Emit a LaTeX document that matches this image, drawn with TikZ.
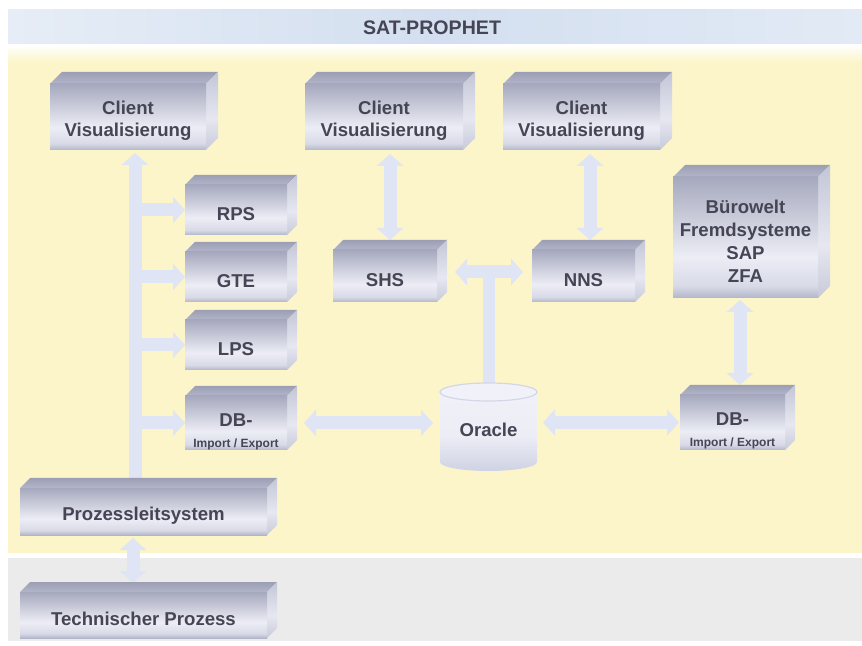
\documentclass[tikz,border=0pt]{standalone}
\usepackage{fontspec}
\setmainfont{Liberation Sans}
\usetikzlibrary{arrows.meta}

\definecolor{yellowbg}{HTML}{FCF5CA}
\definecolor{graybg}{HTML}{EBEBEB}
\definecolor{titleL}{HTML}{E6EDF6}
\definecolor{titleM}{HTML}{D3DFF0}
\definecolor{titleR}{HTML}{E2EAF5}
\definecolor{arrc}{HTML}{DFE5F5}
\definecolor{txt}{HTML}{454555}
\definecolor{fb}{HTML}{B3B6C9}
\definecolor{fb2}{HTML}{D8DAE7}
\definecolor{fm}{HTML}{ECEDF5}
\definecolor{ft}{HTML}{A6A9BE}
\definecolor{tf1}{HTML}{9C9FB4}
\definecolor{tf2}{HTML}{B3B6C9}
\definecolor{sd1}{HTML}{C3C6D7}
\definecolor{sd2}{HTML}{E6E7F0}
\definecolor{sd3}{HTML}{C8CADA}
\definecolor{cyltop}{HTML}{F1F2F9}
\definecolor{cylbot}{HTML}{CFD2E4}
\definecolor{cyledge}{HTML}{D3D6E6}

\pgfdeclareverticalshading{frontsh}{100bp}{color(0bp)=(fb); color(25bp)=(fb); color(30bp)=(fb2); color(42bp)=(fm); color(75bp)=(ft); color(100bp)=(ft)}
\pgfdeclareverticalshading{sidesh}{100bp}{color(0bp)=(sd3); color(25bp)=(sd3); color(45bp)=(sd2); color(75bp)=(sd1); color(100bp)=(sd1)}
\pgfdeclareverticalshading{cylsh}{100bp}{color(0bp)=(cylbot); color(25bp)=(cylbot); color(45bp)=(fm); color(75bp)=(cyltop); color(100bp)=(cyltop)}

\pgfdeclarelayer{bg}
\pgfdeclarelayer{conn}
\pgfdeclarelayer{cyl}
\pgfsetlayers{bg,conn,cyl,main}

% #1 extra options, #2 name, #3 x1, #4 y1, #5 x2, #6 y2, #7 depth, #8 text
\newcommand{\blk}[8][]{%
  \shade[top color=tf1, bottom color=tf2] (#3,#4+#7) -- (#3+#7,#4) -- (#5,#4) -- (#5-#7,#4+#7) -- cycle;
  \shade[shading=sidesh] (#5-#7,#4+#7) -- (#5,#4) -- (#5,#6-#7) -- (#5-#7,#6) -- cycle;
  \node[blkface, minimum width={(#5-#7-#3)*0.5pt}, minimum height={(#6-#4-#7)*0.5pt}, #1]
    (#2) at ({(#3+#5-#7)/2},{(#4+#7+#6)/2}) {\rule{0pt}{10.7pt}#8};
}

\begin{document}
\begin{tikzpicture}[x=0.5pt,y=-0.5pt,
  blkface/.style={shading=frontsh, inner sep=0pt, outer sep=0pt, align=center, text=txt,
    font=\bfseries\fontsize{9.3}{11}\selectfont},
  titletext/.style={font=\bfseries\fontsize{9.8}{12}\selectfont, text=txt},
  tip/.tip={Triangle[width=13pt,length=6pt]},
  conn/.style={line width=6.5pt, draw=arrc, -tip},
  dconn/.style={line width=6.5pt, draw=arrc, tip-tip},
  plain/.style={line width=6pt, draw=arrc}]

\useasboundingbox (0,0) rectangle (862,646);

% backgrounds
\begin{pgfonlayer}{bg}
  \fill[white] (0,0) rectangle (862,646);
  \shade[left color=titleL, right color=titleR, middle color=titleM] (8,10) rectangle (862,45);
  \shade[top color=white, bottom color=yellowbg] (8,45) rectangle (862,62);
  \fill[yellowbg] (8,62) rectangle (862,553);
  \fill[graybg] (8,558) rectangle (862,641);
\end{pgfonlayer}

\node[titletext] (title) at (432,28) {SAT-PROPHET};

% blocks
\blk{cvL}{50}{72}{218}{150}{12}{Client\\Visualisierung}
\blk{cvM}{305}{72}{475}{150}{12}{Client\\Visualisierung}
\blk{cvR}{503}{72}{672}{150}{12}{Client\\Visualisierung}
\blk{rps}{185}{175}{297}{235}{10}{RPS}
\blk{gte}{185}{242}{297}{302}{10}{GTE}
\blk{lps}{185}{310}{297}{370}{10}{LPS}
\blk[font=\bfseries\fontsize{9.3}{10.5}\selectfont]{dbL}{185}{386}{297}{450}{10}{\rule{0pt}{15pt}DB-\\{\fontsize{6}{7}\selectfont Import / Export}}
\blk{shs}{333}{240}{447}{302}{10}{SHS}
\blk{nns}{532}{240}{645}{302}{10}{NNS}
\blk[font=\bfseries\fontsize{9.3}{11.5}\selectfont]{buero}{673}{165}{830}{298}{12}{Bürowelt\\Fremdsysteme\\SAP\\ZFA}
\blk[font=\bfseries\fontsize{9.3}{10.5}\selectfont]{dbR}{680}{385}{795}{450}{10}{\rule{0pt}{15pt}DB-\\{\fontsize{6}{7}\selectfont Import / Export}}
\blk{pls}{20}{478}{277}{535}{10}{Prozessleitsystem}
\blk{tp}{20}{582}{277}{638}{10}{Technischer Prozess}

% Oracle cylinder
\node[inner sep=0pt, outer sep=0pt, minimum width=48.5pt, minimum height=44pt, text=txt,
  font=\bfseries\fontsize{9.3}{11}\selectfont] (oracle) at (488.5,427) {\rule{0pt}{10pt}Oracle};
\begin{pgfonlayer}{cyl}
  \shade[shading=cylsh] ([yshift=-4.5pt]oracle.north west) -- ([yshift=4.5pt]oracle.south west)
    arc[start angle=180, end angle=360, x radius=24.25pt, y radius=4.5pt]
    -- ([yshift=-4.5pt]oracle.north east)
    arc[start angle=0, end angle=180, x radius=24.25pt, y radius=4.5pt] -- cycle;
  \filldraw[fill=cyltop, draw=cyledge, line width=0.6pt] ([yshift=-4.5pt]oracle.north)
    ellipse[x radius=24.25pt, y radius=4.5pt];
\end{pgfonlayer}

% helper x positions
\coordinate (busx) at (135,0);
\coordinate (mx) at (390,0);
\coordinate (rx) at (590,0);
\coordinate (bx) at (740,0);
\coordinate (tx) at (133,0);
\coordinate (tj) at (489,272);

% connectors
\begin{pgfonlayer}{conn}
  \draw[conn] (pls.north -| busx) -- ([yshift=-1.5pt]cvL.south -| busx);
  \draw[conn] (rps.west -| busx) -- (rps.west);
  \draw[conn] (gte.west -| busx) -- (gte.west);
  \draw[conn] (lps.west -| busx) -- (lps.west);
  \draw[conn] (dbL.west -| busx) -- (dbL.west);
  \draw[dconn] ([yshift=-1.5pt]pls.south -| tx) -- ([yshift=4.5pt]tp.north -| tx);
  \draw[dconn] ([yshift=-2pt]cvM.south -| mx) -- ([yshift=5pt]shs.north -| mx);
  \draw[dconn] ([yshift=-2pt]cvR.south -| rx) -- ([yshift=5pt]nns.north -| rx);
  \draw[dconn] ([yshift=-1pt]buero.south -| bx) -- ([yshift=5pt]dbR.north -| bx);
  \draw[dconn] ([xshift=8.5pt]dbL.east) -- ([xshift=-3.5pt]dbL.east -| oracle.west);
  \draw[dconn] ([xshift=3pt]oracle.east |- dbR.west) -- ([xshift=-0.5pt]dbR.west);
  \draw[dconn] ([xshift=9pt]shs.east |- tj) -- ([xshift=-4.5pt]nns.west |- tj);
  \draw[plain] (tj) -- (oracle.north -| tj);
\end{pgfonlayer}
\end{tikzpicture}
\end{document}
